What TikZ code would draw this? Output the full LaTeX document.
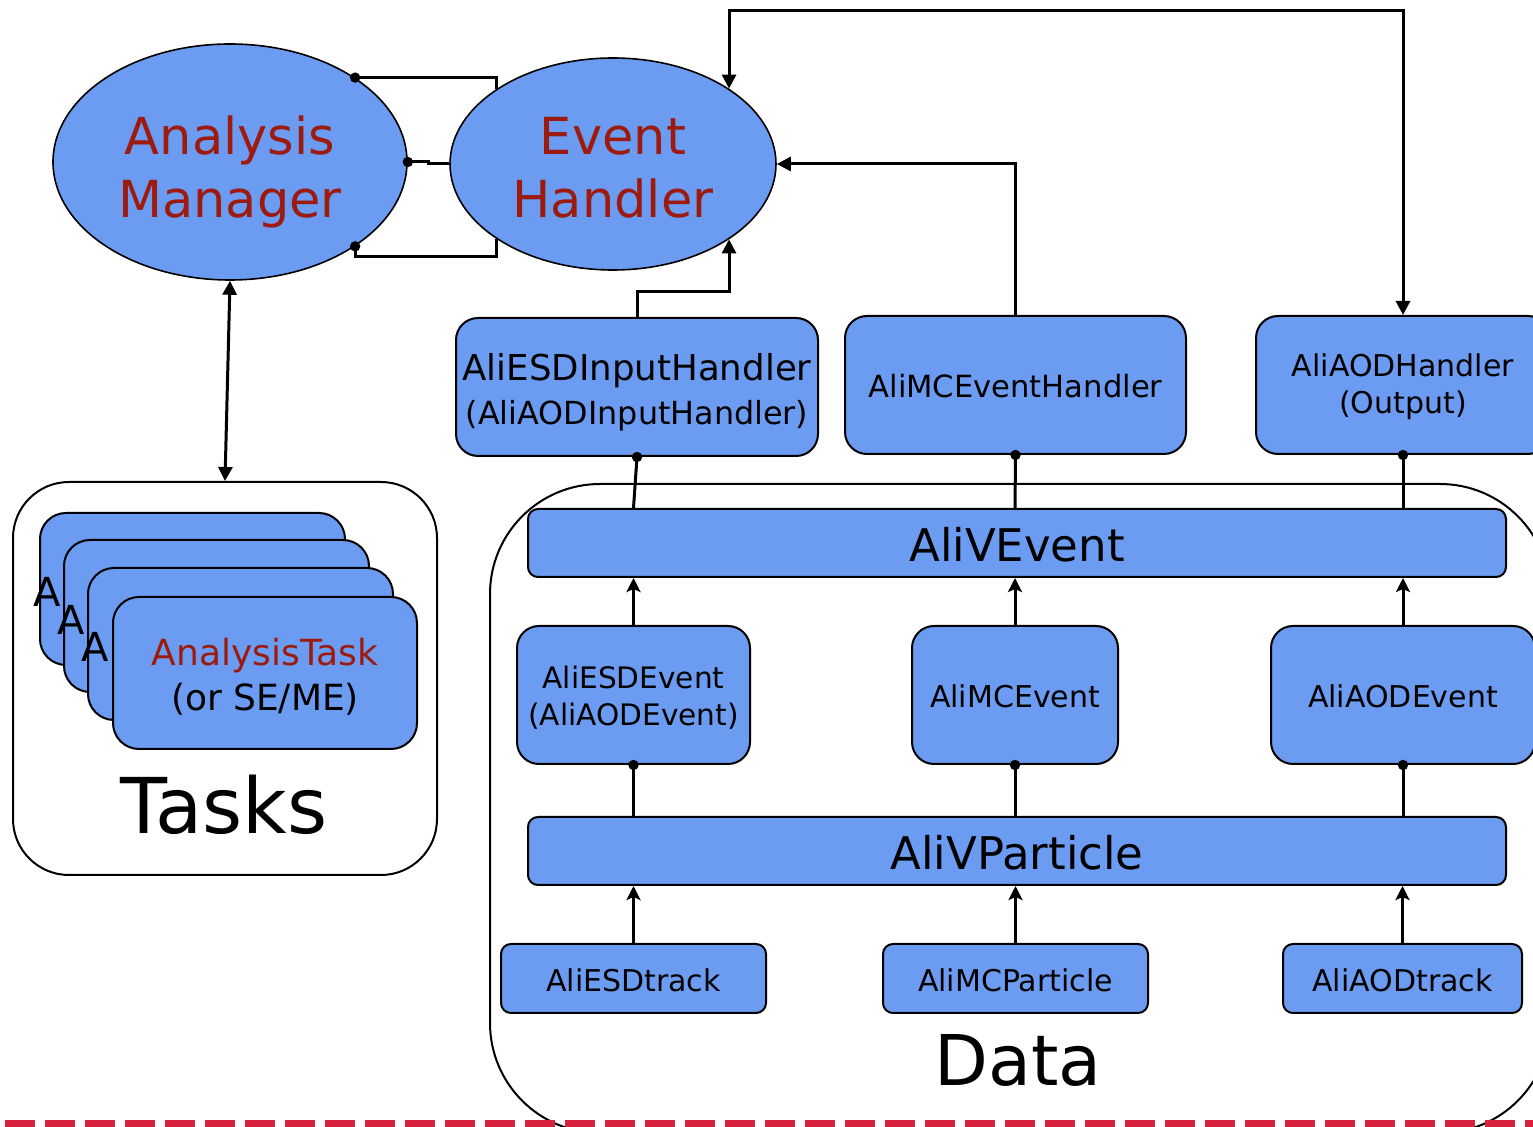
\documentclass[tikz,border=0pt]{standalone}
\usepackage{fontspec}
\setmainfont{DejaVu Sans}
\usetikzlibrary{arrows.meta,shapes.geometric,calc}
\definecolor{boxblue}{HTML}{6B9CF1}
\definecolor{darkred}{HTML}{9C1A0E}
\definecolor{dashred}{HTML}{D8213F}
\newcommand\upstrut[1]{\rule{0pt}{#1}}
\tikzset{
  bluebox/.style={draw, fill=boxblue, line width=1pt, inner sep=0pt, align=center},
  handler/.style={bluebox, rounded corners=11pt, minimum height=69pt, font=\fontsize{15.3}{19}\selectfont},
  bar/.style={bluebox, rounded corners=5pt, minimum height=34pt, minimum width=489pt, font=\fontsize{22.5}{27}\selectfont},
  track/.style={bluebox, rounded corners=5pt, minimum height=34.5pt, font=\fontsize{15}{18}\selectfont},
  card/.style={bluebox, rounded corners=13pt, minimum width=152.5pt, minimum height=76pt, font=\fontsize{18}{22.5}\selectfont},
  ell/.style={ellipse, draw, fill=boxblue, line width=0.8pt, inner sep=0pt, text=darkred, align=center, font=\fontsize{25.5}{31.5}\selectfont},
  frame/.style={draw, line width=1pt},
  biglabel/.style={font=\fontsize{35}{40}\selectfont, inner sep=0pt},
  aletter/.style={font=\fontsize{20}{24}\selectfont, inner sep=0pt},
  conn/.style={line width=1.5pt},
  arr/.style={conn, -{Stealth[length=7pt,width=7pt,inset=1.5pt]}},
  tarr/.style={conn, -{Triangle[length=7pt,width=7pt]}},
  dtarr/.style={conn, {Triangle[length=7pt,width=7pt]}-{Triangle[length=7pt,width=7pt]}},
}
\begin{document}
\begin{tikzpicture}[x=0.5pt,y=-0.5pt]
\useasboundingbox (0,0) rectangle (1533,1127);
\clip (0,0) rectangle (1533,1127);
\fill[white] (0,0) rectangle (1533,1127);

% frames
\draw[frame, rounded corners=55pt] (490,484) rectangle (1550,1133);
\node[frame, rounded corners=28pt, minimum width=212pt, minimum height=196.5pt] (tasks) at (225,678.5) {};
\node[biglabel, font=\fontsize{38.5}{44}\selectfont] (taskslbl) at (224,805) {Tasks};
\node[biglabel] (datalbl) at (1018,1060) {Data};

% task cards
\node[card] (c1) at (192.5,589) {};
\node[aletter] (a1) at (47,592) {A};
\node[card] (c2) at (216.5,616) {};
\node[aletter] (a2) at (71,620) {A};
\node[card] (c3) at (240.5,644) {};
\node[aletter] (a3) at (95,647) {A};
\node[card, minimum width=152pt, text depth=0pt] (c4) at (265,673) {\upstrut{15.2pt}\textcolor{darkred}{AnalysisTask}\\(or SE/ME)};

% ellipses
\node[ell, minimum width=177pt, minimum height=118pt, text depth=0pt] (am) at (230,162) {\upstrut{24.5pt}Analysis\\Manager};
\node[ell, minimum width=163pt, minimum height=106pt, text depth=0pt] (eh) at (613,164) {\upstrut{22pt}Event\\Handler};

% handlers
\node[handler, minimum width=181pt, text depth=0pt] (esdih) at (637,387)
  {{\fontsize{17.8}{22}\selectfont \upstrut{16pt}AliESDInputHandler}\\[3pt]{\fontsize{15.9}{20}\selectfont (AliAODInputHandler)}};
\node[handler, minimum width=170.5pt] (mceh) at (1015.5,385) {\upstrut{13pt}AliMCEventHandler};
\node[handler, minimum width=147pt, font=\fontsize{15}{18.5}\selectfont, text depth=1pt] (aodh) at (1403,385) {AliAODHandler\\(Output)};

% bars
\node[bar] (vevent) at (1017,543) {\upstrut{19pt}AliVEvent};
\node[bar] (vpart) at (1017,851) {\upstrut{19pt}AliVParticle};

% events
\node[handler, minimum width=116.5pt, font=\fontsize{14.8}{18.5}\selectfont, text depth=0pt] (esdev) at (633.5,695) {\upstrut{12.5pt}AliESDEvent\\(AliAODEvent)};
\node[handler, minimum width=103pt, font=\fontsize{15}{18.5}\selectfont] (mcev) at (1015,695) {\upstrut{13pt}AliMCEvent};
\node[handler, minimum width=132pt, font=\fontsize{15}{18.5}\selectfont] (aodev) at (1403,695) {\upstrut{13pt}AliAODEvent};

% tracks
\node[track, minimum width=132.5pt] (esdtr) at (633.5,978.5) {\upstrut{13pt}AliESDtrack};
\node[track, minimum width=132.5pt] (mcpart) at (1015.5,978.5) {\upstrut{13pt}AliMCParticle};
\node[track, minimum width=119.5pt] (aodtr) at (1402.5,978.5) {\upstrut{13pt}AliAODtrack};

% ellipse links
\draw[conn] (am.34) -| (eh.147);
\draw[conn] (am.-34) -- ++(0,10) -| (eh.-147);
\draw[conn] (am.east) -- ++(21,0) |- (eh.west);
\fill (am.34) circle (2.6pt);
\fill (am.-34) circle (2.6pt);
\fill (am.east) circle (2.6pt);

% manager - tasks
\draw[dtarr] (am.south) -- (tasks.north);

% handlers - event handler
\draw[tarr] (esdih.north) -- ++(0,-25) -| (eh.-33);
\draw[tarr] (mceh.north) |- (eh.east);
\draw[dtarr] (aodh.north) -- ++(0,-304) -| (eh.33);

% handlers - AliVEvent
\foreach \h/\e in {esdih/esdev, mceh/mcev, aodh/aodev}{
  \draw[conn] (\h.south) -- (\e.north |- vevent.north);
  \fill (\h.south) circle (2.6pt);
}
% events - AliVEvent
\foreach \e in {esdev, mcev, aodev}{
  \draw[arr] (\e.north) -- (\e.north |- vevent.south);
  \draw[conn] (\e.south) -- (\e.south |- vpart.north);
  \fill (\e.south) circle (2.6pt);
}
% tracks - AliVParticle
\foreach \t in {esdtr, mcpart, aodtr}{
  \draw[arr] (\t.north) -- (\t.north |- vpart.south);
}

% dashed line
\draw[dashred, line width=3.5pt, dash pattern=on 15pt off 5pt] (5,1124) -- (1533,1124);
\end{tikzpicture}
\end{document}
